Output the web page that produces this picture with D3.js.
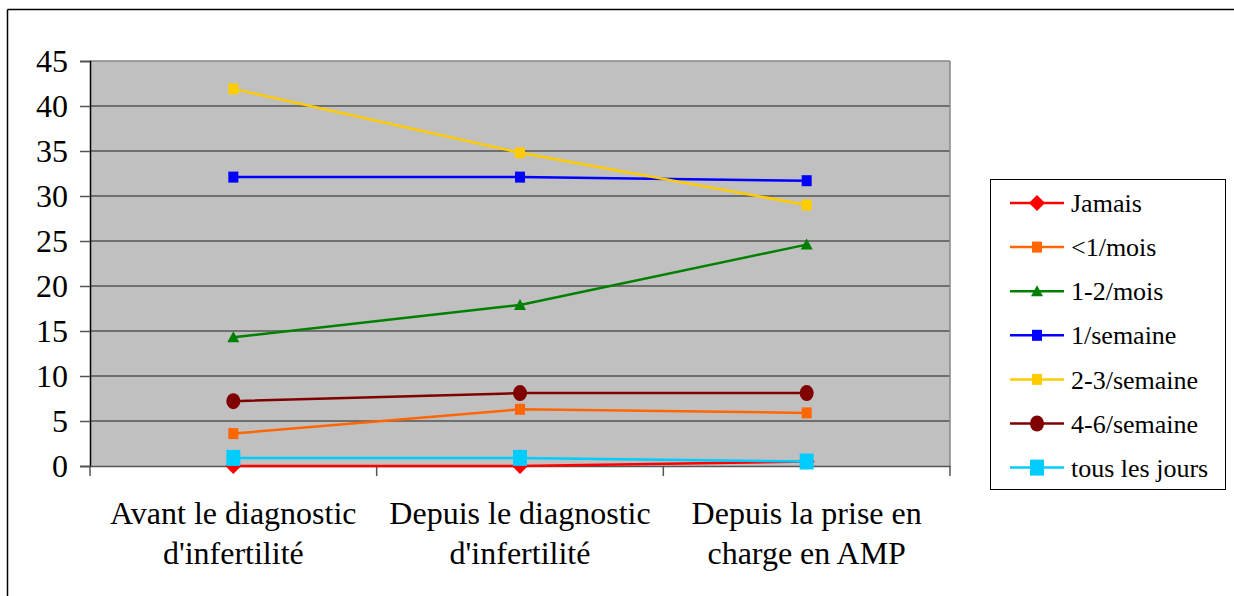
<!DOCTYPE html>
<html><head><meta charset="utf-8">
<script src="https://cdn.jsdelivr.net/npm/d3@7"></script>
<style>
html,body{margin:0;padding:0;background:#fff;}
svg{display:block;}
</style></head>
<body>
<svg id="chart" width="1234" height="596" font-family="Liberation Serif"></svg>
<script>
const categories = ["Avant le diagnostic\nd'infertilité", "Depuis le diagnostic\nd'infertilité", "Depuis la prise en\ncharge en AMP"];
const seriesNames = ["Jamais", "<1/mois", "1-2/mois", "1/semaine", "2-3/semaine", "4-6/semaine", "tous les jours"];
const jamais = [0, 0, 0.5];
const moinsUnMois = [3.6, 6.3, 5.9];
const unDeuxMois = [14.3, 17.9, 24.6];
const unSemaine = [32.1, 32.1, 31.7];
const deuxTroisSemaine = [41.9, 34.8, 29.0];
const quatreSixSemaine = [7.2, 8.1, 8.1];
const tousLesJours = [0.9, 0.9, 0.5];
const yTicks = [0, 5, 10, 15, 20, 25, 30, 35, 40, 45];

const seriesValues = [jamais, moinsUnMois, unDeuxMois, unSemaine, deuxTroisSemaine, quatreSixSemaine, tousLesJours];
const colors = ["#ff0000", "#ff6600", "#008000", "#0000ff", "#ffcc00", "#800000", "#00ccff"];
const shapes = ["diamond", "square", "triangle", "square", "square", "circle", "bigsquare"];
const FONT = "Liberation Serif";

const svg = d3.select("#chart");
// outer frame (top and left)
svg.append("line").attr("x1", 7.5).attr("y1", 9.5).attr("x2", 1234).attr("y2", 9.5).attr("stroke", "#000").attr("stroke-width", 1.5);
svg.append("line").attr("x1", 7.5).attr("y1", 9.5).attr("x2", 7.5).attr("y2", 596).attr("stroke", "#000").attr("stroke-width", 1.5);

const L = 90, R = 950, T = 61, B = 466;
const x = d3.scaleBand().domain(categories).range([L, R]).padding(0);
const y = d3.scaleLinear().domain([0, 45]).range([B, T]);

svg.append("rect").attr("x", L).attr("y", T).attr("width", R - L).attr("height", B - T).attr("fill", "#c0c0c0");

// gridlines
svg.append("g").selectAll("line").data(yTicks.filter(d => d > 0)).join("line")
  .attr("x1", L).attr("x2", R).attr("y1", d => y(d)).attr("y2", d => y(d))
  .attr("stroke", d => d === 45 ? "#888" : "#555").attr("stroke-width", 1.5);
// right border
svg.append("line").attr("x1", R).attr("x2", R).attr("y1", T).attr("y2", B).attr("stroke", "#888").attr("stroke-width", 1.5);

// y axis
const yAxis = d3.axisLeft(y).tickValues(yTicks).tickSize(10).tickPadding(12);
const gy = svg.append("g").attr("transform", `translate(${L},0)`).call(yAxis);
gy.attr("font-family", FONT).attr("font-size", 32);
gy.select(".domain").attr("stroke", "#000").attr("stroke-width", 1.5);
gy.selectAll(".tick line").attr("stroke", "#555").attr("stroke-width", 1.5);
gy.selectAll(".tick text").attr("font-family", FONT).attr("font-size", 32).attr("fill", "#000");

// x axis
const xAxis = d3.axisBottom(x).tickSize(0).tickFormat("");
const gx = svg.append("g").attr("transform", `translate(0,${B})`).call(xAxis);
gx.select(".domain").attr("stroke", "#555").attr("stroke-width", 1.5);
const bounds = [L].concat(categories.map(c => x(c) + x.bandwidth()));
svg.append("g").selectAll("line").data(bounds).join("line")
  .attr("x1", d => d).attr("x2", d => d).attr("y1", B).attr("y2", B + 10)
  .attr("stroke", "#555").attr("stroke-width", 1.5);

// category labels
const cl = svg.append("g").selectAll("text").data(categories).join("text")
  .attr("x", d => x(d) + x.bandwidth() / 2)
  .attr("text-anchor", "middle").attr("font-family", FONT).attr("font-size", 32).attr("fill", "#000");
cl.each(function(d) {
  const lines = d.split("\n");
  d3.select(this).selectAll("tspan").data(lines).join("tspan")
    .attr("x", x(d) + x.bandwidth() / 2)
    .attr("y", (l, i) => 524 + i * 40)
    .text(l => l);
});

function drawMarker(g, shape, cx, cy, color) {
  if (shape === "diamond") {
    g.append("path").attr("d", `M${cx},${cy-8}L${cx+8},${cy}L${cx},${cy+8}L${cx-8},${cy}Z`).attr("fill", color);
  } else if (shape === "square") {
    g.append("rect").attr("x", cx - 5).attr("y", cy - 5.5).attr("width", 10).attr("height", 11).attr("fill", color);
  } else if (shape === "bigsquare") {
    g.append("rect").attr("x", cx - 7).attr("y", cy - 8).attr("width", 14).attr("height", 16).attr("fill", color);
  } else if (shape === "triangle") {
    g.append("path").attr("d", `M${cx},${cy-6}L${cx+6},${cy+5}L${cx-6},${cy+5}Z`).attr("fill", color);
  } else if (shape === "circle") {
    g.append("ellipse").attr("cx", cx).attr("cy", cy).attr("rx", 7).attr("ry", 8).attr("fill", color);
  }
}

const line = d3.line().x((d, i) => x(categories[i]) + x.bandwidth() / 2).y(d => y(d));
seriesValues.forEach((vals, si) => {
  const g = svg.append("g");
  g.append("path").datum(vals).attr("d", line).attr("fill", "none").attr("stroke", colors[si]).attr("stroke-width", 2.5);
  vals.forEach((v, i) => drawMarker(g, shapes[si], x(categories[i]) + x.bandwidth() / 2, y(v), colors[si]));
});

// legend
const lg = svg.append("g");
lg.append("rect").attr("x", 990.5).attr("y", 179.5).attr("width", 235).attr("height", 310).attr("fill", "#fff").attr("stroke", "#000").attr("stroke-width", 1);
seriesNames.forEach((name, i) => {
  const cy = 203 + i * 44.1;
  lg.append("line").attr("x1", 1010).attr("x2", 1064).attr("y1", cy).attr("y2", cy).attr("stroke", colors[i]).attr("stroke-width", 2.5);
  drawMarker(lg, shapes[i], 1037, cy, colors[i]);
  lg.append("text").attr("x", 1071).attr("y", cy).attr("dy", "0.35em").attr("font-family", FONT).attr("font-size", 26).attr("fill", "#000").text(name);
});
</script>
</body></html>
